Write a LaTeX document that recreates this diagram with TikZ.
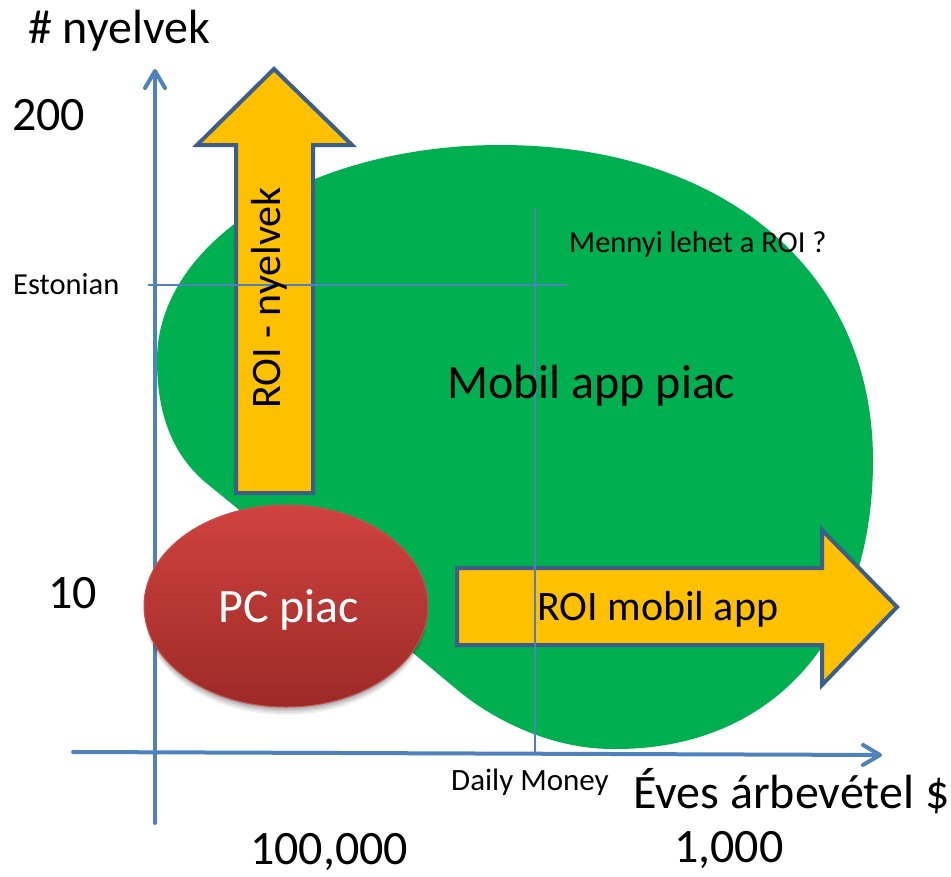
\documentclass[tikz,border=0pt]{standalone}
\usepackage{fontspec}
\setmainfont{Carlito}
\usetikzlibrary{arrows.meta}
\definecolor{mktgreen}{HTML}{00B050}
\definecolor{roifill}{HTML}{FFC000}
\definecolor{roiedge}{HTML}{3B5E8B}
\definecolor{axisblue}{HTML}{4F81BD}
\definecolor{pctop}{HTML}{D0433F}
\definecolor{pcbot}{HTML}{9C2A27}
\definecolor{pcedge}{HTML}{C9504C}
\begin{document}
\begin{tikzpicture}[x=1pt,y=-1pt,
  axis/.style={draw=axisblue,line width=4pt,line cap=round,
    -{Straight Barb[length=17pt,width=20pt,line cap=round,line join=round]}},
  guide/.style={draw=axisblue,line width=1.3pt},
  roiarrow/.style={fill=roifill,draw=roiedge,line width=4pt,line join=miter},
  lbl/.style={inner sep=0pt,anchor=base west,font=\fontsize{#1}{#1}\selectfont},
  lbl/.default=48,
]
\useasboundingbox (0,0) rectangle (951,876);

% mobile app market blob
\fill[mktgreen] (157,360)
  .. controls (157,241) and (311,145) .. (500,145)
  .. controls (724,145) and (873,271) .. (873,460)
  .. controls (873,640) and (770,749) .. (616,749)
  .. controls (555,750) and (495,722) .. (455,688)
  .. controls (380,625) and (270,535) .. (205,482)
  .. controls (170,452) and (157,410) .. (157,360) -- cycle;

% axes
\coordinate (yorig) at (155,823);
\coordinate (ytip) at (155,69);
\coordinate (xorig) at (73,752);
\coordinate (xtip) at (882,755);
\draw[axis] (yorig) -- (ytip);
\draw[axis] (xorig) -- (xtip);

% block arrows
\draw[roiarrow] (236,493) -- (236,145) -- (197,145) -- (274,69)
  -- (352,145) -- (313,145) -- (313,493) -- cycle;
\draw[roiarrow] (457,568) -- (822,568) -- (822,530) -- (897,607)
  -- (822,685) -- (822,645) -- (457,645) -- cycle;

% PC market ellipse with soft shadow
\foreach \s/\o in {9/0.06,7/0.08,5/0.10,3/0.12}
  \fill[black,opacity=\o] (286,606+\s) ellipse [x radius=141, y radius=100];
\shade[top color=pctop,bottom color=pcbot] (286,606) ellipse [x radius=142, y radius=101];
\draw[pcedge,line width=1pt] (286,606) ellipse [x radius=142, y radius=101];

% guide lines
\coordinate (hg1) at (148,285);
\coordinate (hg2) at (567,285);
\coordinate (vg1) at (535,208);
\coordinate (vg2) at (535,752);
\draw[guide] (hg1) -- (hg2);
\draw[guide] (vg1) -- (vg2);

% labels
\node[lbl] (ytitle) at (28,43) {\# nyelvek};
\node[lbl] (y200) at (12,130) {200};
\node[lbl] (y10) at (48,608) {10};
\node[lbl=30.5] (yest) at (13,294) {Estonian};
\node[lbl=42,anchor=base,rotate=90] (roilang) at (280,298) {ROI - nyelvek};
\node[lbl] (mobil) at (447,398) {Mobil app piac};
\node[lbl,text=white] (pc) at (218,622) {PC piac};
\node[lbl=42] (roimob) at (537,620) {ROI mobil app};
\node[lbl=30.5] (menny) at (569,252) {Mennyi lehet a ROI ?};
\node[lbl=31] (daily) at (451,790) {Daily Money};
\node[lbl] (xtitle) at (633,808) {Éves árbevétel \$};
\node[lbl] (x100k) at (250,864) {100,000};
\node[lbl] (x1k) at (674,862) {1,000};
\end{tikzpicture}
\end{document}
